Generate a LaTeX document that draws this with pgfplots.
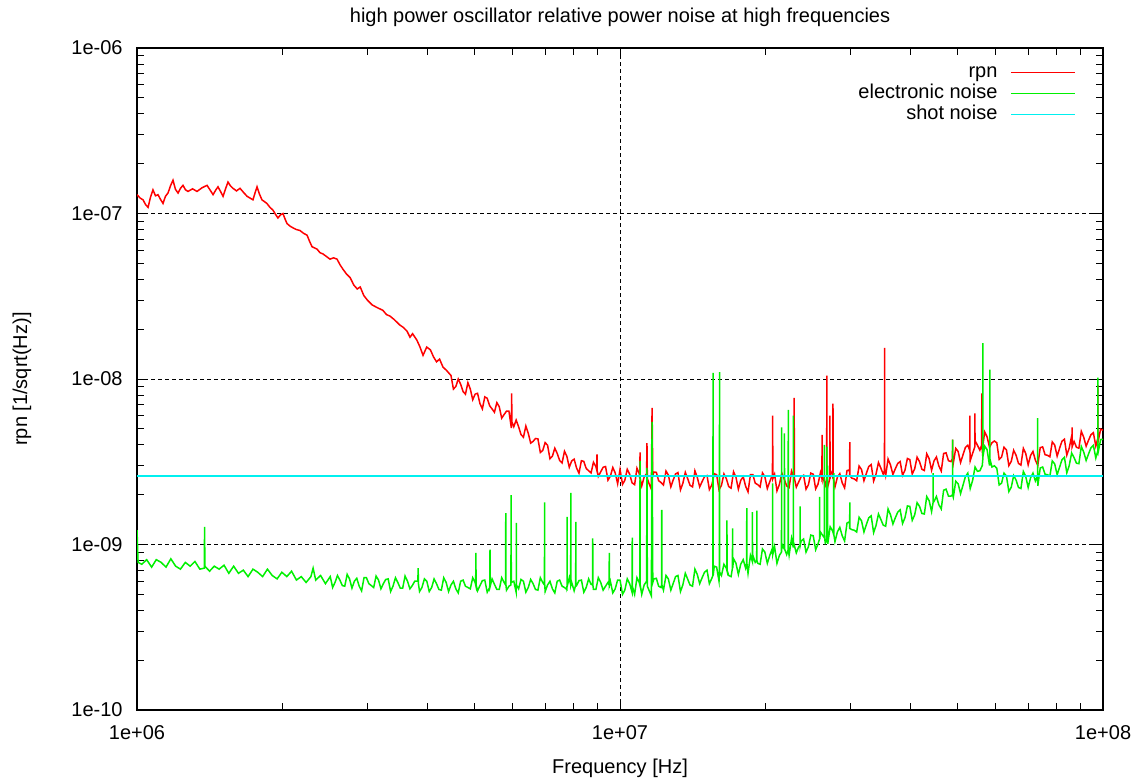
\documentclass[border=0pt]{standalone}
\usepackage{fontspec}
\setmainfont{Liberation Sans}
\usepackage{pgfplots}
\pgfplotsset{compat=1.18}
\definecolor{gpred}{RGB}{255,0,0}
\definecolor{gpgreen}{RGB}{0,240,0}
\definecolor{gpcyan}{RGB}{0,240,240}
\begin{document}
\begin{tikzpicture}
\begin{axis}[
  scale only axis, width=483pt, height=331pt,
  xmode=log, ymode=log,
  xmin=1e6, xmax=1e8, ymin=1e-10, ymax=1e-6,
  xtick={1e6,1e7,1e8}, xticklabels={1e+06,1e+07,1e+08},
  minor xtick={2e6,3e6,4e6,5e6,6e6,7e6,8e6,9e6,2e7,3e7,4e7,5e7,6e7,7e7,8e7,9e7},
  ytick={1e-10,1e-9,1e-8,1e-7,1e-6}, yticklabels={1e-10,1e-09,1e-08,1e-07,1e-06},
  minor ytick={2e-10,3e-10,4e-10,5e-10,6e-10,7e-10,8e-10,9e-10,2e-9,3e-9,4e-9,5e-9,6e-9,7e-9,8e-9,9e-9,2e-8,3e-8,4e-8,5e-8,6e-8,7e-8,8e-8,9e-8,2e-7,3e-7,4e-7,5e-7,6e-7,7e-7,8e-7,9e-7},
  xmajorgrids, ymajorgrids,
  major grid style={black, line width=0.5pt, dash pattern=on 2pt off 1.5pt},
  axis line style={black, line width=0.6pt},
  tick style={black, line width=0.5pt},
  major tick length=5pt, minor tick length=3.5pt,
  tick align=inside,
  xticklabel style={yshift=-4pt},
  yticklabel style={xshift=-3.7pt},
  every axis title shift=0pt,
  title={high power oscillator relative power noise at high frequencies},
  title style={at={(axis description cs:0.5,1.0378)}, anchor=base, yshift=0pt},
  xlabel={Frequency [Hz]},
  xlabel style={at={(axis description cs:0.5,-0.0952)}, anchor=base},
  ylabel={rpn [1/sqrt(Hz)]},
  ylabel style={at={(axis description cs:-0.119,0.5)}, anchor=center},
  legend cell align=right,
  legend plot pos=right,
  legend image code/.code={\draw[#1] (0pt,0pt) -- (32pt,0pt);},
  legend style={draw=none, fill=none, at={(1,1)}, anchor=north east,
    xshift=-13.5pt, yshift=-7pt, inner sep=0pt, outer sep=0pt,
    row sep=0pt, column sep=6.5pt,
    nodes={inner sep=0pt, text height=7.5pt, text depth=3pt}},
]
\addplot[gpred, line width=0.75pt] table {
x y
1.000e6 1.30e-7
1.015e6 1.24e-7
1.029e6 1.21e-7
1.042e6 1.13e-7
1.054e6 1.09e-7
1.066e6 1.25e-7
1.079e6 1.39e-7
1.092e6 1.28e-7
1.105e6 1.30e-7
1.118e6 1.22e-7
1.132e6 1.15e-7
1.145e6 1.27e-7
1.159e6 1.33e-7
1.173e6 1.47e-7
1.187e6 1.59e-7
1.201e6 1.40e-7
1.216e6 1.33e-7
1.230e6 1.42e-7
1.245e6 1.48e-7
1.260e6 1.39e-7
1.275e6 1.36e-7
1.303e6 1.41e-7
1.331e6 1.36e-7
1.363e6 1.43e-7
1.396e6 1.48e-7
1.416e6 1.39e-7
1.437e6 1.30e-7
1.454e6 1.38e-7
1.471e6 1.45e-7
1.489e6 1.36e-7
1.507e6 1.27e-7
1.525e6 1.41e-7
1.543e6 1.55e-7
1.561e6 1.47e-7
1.580e6 1.42e-7
1.607e6 1.37e-7
1.634e6 1.42e-7
1.662e6 1.34e-7
1.690e6 1.27e-7
1.714e6 1.24e-7
1.738e6 1.21e-7
1.755e6 1.33e-7
1.772e6 1.45e-7
1.793e6 1.31e-7
1.814e6 1.21e-7
1.836e6 1.18e-7
1.858e6 1.15e-7
1.884e6 1.09e-7
1.911e6 1.05e-7
1.935e6 9.9e-8
1.958e6 9.4e-8
1.981e6 9.8e-8
2.005e6 1.00e-7
2.024e6 9.3e-8
2.044e6 8.7e-8
2.073e6 8.4e-8
2.102e6 8.2e-8
2.138e6 8.0e-8
2.174e6 7.9e-8
2.211e6 7.6e-8
2.249e6 7.4e-8
2.276e6 6.8e-8
2.303e6 6.3e-8
2.330e6 6.2e-8
2.358e6 6.1e-8
2.392e6 5.8e-8
2.426e6 5.7e-8
2.467e6 5.5e-8
2.509e6 5.3e-8
2.552e6 5.4e-8
2.595e6 5.3e-8
2.632e6 4.9e-8
2.670e6 4.6e-8
2.716e6 4.3e-8
2.762e6 4.1e-8
2.810e6 3.7e-8
2.857e6 3.5e-8
2.898e6 3.6e-8
2.947e6 3.2e-8
2.998e6 3.0e-8
3.070e6 2.8e-8
3.143e6 2.7e-8
3.229e6 2.6e-8
3.285e6 2.45e-8
3.340e6 2.4e-8
3.400e6 2.3e-8
3.455e6 2.2e-8
3.500e6 2.12e-8
3.560e6 2.05e-8
3.621e6 1.95e-8
3.675e6 1.79e-8
3.720e6 1.88e-8
3.796e6 1.72e-8
3.854e6 1.56e-8
3.910e6 1.39e-8
3.980e6 1.56e-8
4.050e6 1.50e-8
4.110e6 1.36e-8
4.170e6 1.27e-8
4.230e6 1.32e-8
4.300e6 1.18e-8
4.370e6 1.13e-8
4.467e6 1.05e-8
4.519e6 8.7e-9
4.571e6 9.0e-9
4.624e6 1.00e-8
4.677e6 9.3e-9
4.732e6 8.4e-9
4.786e6 8.1e-9
4.842e6 9.5e-9
4.898e6 8.7e-9
4.955e6 7.5e-9
5.012e6 8.1e-9
5.070e6 8.2e-9
5.129e6 7.1e-9
5.188e6 6.6e-9
5.248e6 7.8e-9
5.309e6 7.65e-9
5.370e6 6.9e-9
5.433e6 6.6e-9
5.495e6 6.3e-9
5.559e6 7.2e-9
5.623e6 6.8e-9
5.689e6 5.8e-9
5.754e6 6.1e-9
5.821e6 6.4e-9
5.888e6 6.4e-9
5.957e6 5.05e-9
5.965e6 8.2e-9
5.973e6 5.5e-9
6.026e6 5.15e-9
6.095e6 5.65e-9
6.166e6 5.15e-9
6.237e6 4.62e-9
6.310e6 4.45e-9
6.383e6 5.2e-9
6.457e6 4.7e-9
6.531e6 4.1e-9
6.607e6 4.2e-9
6.683e6 4.37e-9
6.761e6 4.35e-9
6.839e6 3.6e-9
6.918e6 3.7e-9
6.998e6 4.13e-9
7.079e6 3.98e-9
7.161e6 3.3e-9
7.244e6 3.42e-9
7.328e6 3.82e-9
7.413e6 3.55e-9
7.499e6 3.22e-9
7.586e6 3.11e-9
7.674e6 3.66e-9
7.762e6 3.41e-9
7.852e6 2.93e-9
7.943e6 3.2e-9
8.035e6 3.28e-9
8.128e6 2.9e-9
8.222e6 2.7e-9
8.318e6 3.21e-9
8.414e6 3.18e-9
8.511e6 2.88e-9
8.610e6 2.79e-9
8.710e6 2.71e-9
8.810e6 3.14e-9
8.913e6 2.96e-9
8.955e6 2.8e-9
8.960e6 3.5e-9
8.965e6 2.8e-9
9.016e6 2.58e-9
9.120e6 2.75e-9
9.226e6 2.93e-9
9.333e6 2.96e-9
9.441e6 2.45e-9
9.550e6 2.59e-9
9.661e6 2.92e-9
9.772e6 2.71e-9
9.886e6 2.33e-9
1.000e7 2.84e-9
1.012e7 2.31e-9
1.023e7 2.44e-9
1.035e7 2.85e-9
1.047e7 2.66e-9
1.059e7 2.36e-9
1.072e7 2.30e-9
1.084e7 2.89e-9
1.096e7 2.68e-9
1.099e7 2.5e-9
1.100e7 3.6e-9
1.101e7 2.5e-9
1.109e7 2.26e-9
1.122e7 2.56e-9
1.135e7 2.68e-9
1.137e7 4.1e-9
1.139e7 2.5e-9
1.148e7 2.34e-9
1.161e7 2.16e-9
1.165e7 6.7e-9
1.169e7 2.6e-9
1.175e7 2.74e-9
1.189e7 2.73e-9
1.202e7 2.43e-9
1.216e7 2.37e-9
1.230e7 2.29e-9
1.245e7 2.78e-9
1.259e7 2.63e-9
1.274e7 2.23e-9
1.288e7 2.45e-9
1.303e7 2.67e-9
1.318e7 2.72e-9
1.334e7 2.14e-9
1.349e7 2.34e-9
1.365e7 2.73e-9
1.380e7 2.51e-9
1.396e7 2.28e-9
1.413e7 2.23e-9
1.429e7 2.79e-9
1.445e7 2.55e-9
1.462e7 2.23e-9
1.479e7 2.40e-9
1.496e7 2.57e-9
1.514e7 2.61e-9
1.531e7 2.15e-9
1.549e7 2.29e-9
1.567e7 2.68e-9
1.585e7 2.64e-9
1.603e7 2.14e-9
1.622e7 2.28e-9
1.641e7 2.67e-9
1.660e7 2.50e-9
1.679e7 2.24e-9
1.698e7 2.19e-9
1.718e7 2.75e-9
1.738e7 2.55e-9
1.758e7 2.16e-9
1.778e7 2.44e-9
1.799e7 2.57e-9
1.820e7 2.25e-9
1.841e7 2.08e-9
1.862e7 2.64e-9
1.884e7 2.64e-9
1.905e7 2.35e-9
1.928e7 2.30e-9
1.950e7 2.23e-9
1.972e7 2.71e-9
1.995e7 2.57e-9
2.018e7 2.18e-9
2.042e7 2.40e-9
2.065e7 2.61e-9
2.068e7 2.5e-9
2.070e7 6.0e-9
2.072e7 2.5e-9
2.089e7 2.66e-9
2.113e7 2.11e-9
2.138e7 2.31e-9
2.163e7 2.70e-9
2.188e7 2.48e-9
2.213e7 2.26e-9
2.239e7 2.21e-9
2.265e7 2.78e-9
2.291e7 2.54e-9
2.293e7 7.7e-9
2.297e7 2.5e-9
2.317e7 2.22e-9
2.344e7 2.39e-9
2.371e7 2.57e-9
2.399e7 2.62e-9
2.427e7 2.16e-9
2.455e7 2.30e-9
2.483e7 2.70e-9
2.512e7 2.66e-9
2.541e7 2.17e-9
2.570e7 2.32e-9
2.600e7 2.72e-9
2.618e7 2.5e-9
2.620e7 4.6e-9
2.622e7 2.5e-9
2.630e7 2.55e-9
2.661e7 2.29e-9
2.678e7 2.5e-9
2.680e7 1.05e-8
2.682e7 2.5e-9
2.692e7 2.24e-9
2.718e7 2.5e-9
2.720e7 6.0e-9
2.722e7 2.5e-9
2.723e7 2.82e-9
2.754e7 2.63e-9
2.758e7 2.5e-9
2.760e7 7.1e-9
2.762e7 2.55e-9
2.786e7 2.23e-9
2.818e7 2.55e-9
2.851e7 2.68e-9
2.884e7 2.36e-9
2.917e7 2.20e-9
2.951e7 2.80e-9
2.985e7 2.82e-9
2.988e7 2.6e-9
2.990e7 4.15e-9
2.992e7 2.6e-9
3.020e7 2.52e-9
3.055e7 2.49e-9
3.090e7 2.43e-9
3.126e7 2.98e-9
3.162e7 2.84e-9
3.199e7 2.43e-9
3.236e7 2.69e-9
3.273e7 2.96e-9
3.311e7 3.04e-9
3.350e7 2.42e-9
3.388e7 2.66e-9
3.428e7 3.13e-9
3.467e7 2.90e-9
3.507e7 2.66e-9
3.528e7 2.8e-9
3.530e7 1.54e-8
3.532e7 2.8e-9
3.548e7 2.61e-9
3.589e7 3.29e-9
3.631e7 3.02e-9
3.673e7 2.65e-9
3.715e7 2.87e-9
3.758e7 3.09e-9
3.802e7 3.17e-9
3.846e7 2.62e-9
3.890e7 2.81e-9
3.936e7 3.31e-9
3.981e7 3.26e-9
4.027e7 2.67e-9
4.074e7 2.87e-9
4.121e7 3.37e-9
4.169e7 3.17e-9
4.217e7 2.85e-9
4.266e7 2.80e-9
4.315e7 3.53e-9
4.365e7 3.30e-9
4.416e7 2.81e-9
4.467e7 3.20e-9
4.519e7 3.38e-9
4.571e7 2.99e-9
4.624e7 2.78e-9
4.677e7 3.55e-9
4.732e7 3.58e-9
4.786e7 3.21e-9
4.842e7 3.17e-9
4.878e7 3.3e-9
4.880e7 4.3e-9
4.882e7 3.3e-9
4.898e7 3.10e-9
4.955e7 3.81e-9
5.012e7 3.65e-9
5.070e7 3.13e-9
5.129e7 3.48e-9
5.188e7 3.86e-9
5.248e7 3.98e-9
5.298e7 3.7e-9
5.300e7 6.0e-9
5.302e7 3.7e-9
5.309e7 3.21e-9
5.370e7 3.56e-9
5.428e7 3.9e-9
5.430e7 6.2e-9
5.432e7 4.25e-9
5.495e7 3.98e-9
5.559e7 3.72e-9
5.608e7 4.0e-9
5.610e7 8.2e-9
5.612e7 4.0e-9
5.623e7 3.73e-9
5.689e7 4.79e-9
5.754e7 4.47e-9
5.821e7 3.87e-9
5.888e7 4.12e-9
5.957e7 4.22e-9
6.026e7 4.12e-9
6.095e7 3.27e-9
6.166e7 3.38e-9
6.237e7 3.87e-9
6.310e7 3.73e-9
6.383e7 3.00e-9
6.457e7 3.18e-9
6.531e7 3.71e-9
6.607e7 3.46e-9
6.683e7 3.09e-9
6.761e7 3.02e-9
6.839e7 3.81e-9
6.918e7 3.55e-9
6.998e7 3.03e-9
7.079e7 3.45e-9
7.161e7 3.65e-9
7.244e7 3.23e-9
7.328e7 3.01e-9
7.413e7 3.85e-9
7.499e7 3.89e-9
7.586e7 3.49e-9
7.674e7 3.46e-9
7.762e7 3.39e-9
7.852e7 4.17e-9
7.943e7 3.99e-9
8.035e7 3.42e-9
8.128e7 3.81e-9
8.222e7 4.21e-9
8.318e7 4.33e-9
8.414e7 3.47e-9
8.511e7 3.83e-9
8.610e7 4.52e-9
8.628e7 3.9e-9
8.630e7 5.1e-9
8.632e7 3.9e-9
8.710e7 4.20e-9
8.810e7 3.87e-9
8.913e7 3.82e-9
9.016e7 4.83e-9
9.120e7 4.45e-9
9.226e7 3.93e-9
9.333e7 4.27e-9
9.441e7 4.61e-9
9.550e7 4.74e-9
9.661e7 3.93e-9
9.758e7 4.4e-9
9.760e7 9.2e-9
9.762e7 4.4e-9
9.772e7 4.23e-9
9.886e7 4.98e-9
1.000e8 4.91e-9
};
\addlegendentry{rpn}
\addplot[gpgreen, line width=0.75pt] table {
x y
1.000e6 1.22e-9
1.005e6 7.8e-10
1.023e6 7.6e-10
1.047e6 8.1e-10
1.072e6 7.3e-10
1.096e6 8.1e-10
1.122e6 7.8e-10
1.148e6 7.3e-10
1.175e6 8.2e-10
1.202e6 7.4e-10
1.230e6 7.1e-10
1.259e6 7.8e-10
1.288e6 7.4e-10
1.318e6 7.9e-10
1.349e6 7.1e-10
1.378e6 7.2e-10
1.380e6 1.28e-9
1.382e6 7.4e-10
1.413e6 6.9e-10
1.445e6 7.4e-10
1.479e6 7.1e-10
1.514e6 7.5e-10
1.549e6 6.7e-10
1.585e6 7.4e-10
1.622e6 6.7e-10
1.660e6 7.0e-10
1.698e6 6.4e-10
1.738e6 7.1e-10
1.778e6 6.8e-10
1.820e6 6.4e-10
1.862e6 7.1e-10
1.905e6 6.5e-10
1.950e6 6.2e-10
1.995e6 6.8e-10
2.042e6 6.4e-10
2.089e6 6.9e-10
2.138e6 6.1e-10
2.188e6 6.4e-10
2.239e6 5.9e-10
2.291e6 6.4e-10
2.315e6 7.2e-10
2.344e6 6.1e-10
2.399e6 6.5e-10
2.455e6 5.8e-10
2.512e6 6.4e-10
2.541e6 5.5e-10
2.570e6 5.9e-10
2.600e6 6.5e-10
2.630e6 6.1e-10
2.661e6 5.65e-10
2.692e6 5.6e-10
2.723e6 6.6e-10
2.754e6 6.2e-10
2.786e6 5.45e-10
2.818e6 6.0e-10
2.851e6 6.25e-10
2.884e6 5.6e-10
2.917e6 5.25e-10
2.951e6 6.3e-10
2.985e6 6.3e-10
3.020e6 5.8e-10
3.055e6 5.65e-10
3.090e6 5.5e-10
3.126e6 6.45e-10
3.162e6 6.1e-10
3.199e6 5.4e-10
3.236e6 5.8e-10
3.273e6 6.15e-10
3.311e6 6.2e-10
3.350e6 5.2e-10
3.388e6 5.6e-10
3.428e6 6.3e-10
3.467e6 5.9e-10
3.508e6 5.45e-10
3.548e6 5.45e-10
3.589e6 6.45e-10
3.631e6 6.0e-10
3.673e6 5.4e-10
3.715e6 5.65e-10
3.758e6 6.0e-10
3.802e6 6.0e-10
3.815e6 6.0e-10
3.820e6 7.2e-10
3.825e6 5.8e-10
3.846e6 5.2e-10
3.890e6 5.5e-10
3.936e6 6.2e-10
3.981e6 6.0e-10
4.027e6 5.2e-10
4.074e6 5.5e-10
4.121e6 6.2e-10
4.169e6 5.8e-10
4.217e6 5.35e-10
4.266e6 5.3e-10
4.315e6 6.3e-10
4.365e6 5.9e-10
4.416e6 5.2e-10
4.467e6 5.7e-10
4.519e6 6.0e-10
4.571e6 5.4e-10
4.624e6 5.1e-10
4.677e6 6.0e-10
4.732e6 6.1e-10
4.786e6 5.6e-10
4.842e6 5.5e-10
4.898e6 5.4e-10
4.955e6 6.3e-10
5.012e6 5.9e-10
5.025e6 5.7e-10
5.030e6 8.9e-10
5.035e6 5.7e-10
5.070e6 5.25e-10
5.129e6 5.65e-10
5.188e6 6.05e-10
5.248e6 6.1e-10
5.309e6 5.15e-10
5.370e6 5.5e-10
5.375e6 5.7e-10
5.380e6 9.3e-10
5.385e6 5.6e-10
5.433e6 6.2e-10
5.495e6 5.75e-10
5.559e6 5.35e-10
5.623e6 5.35e-10
5.689e6 6.3e-10
5.754e6 5.9e-10
5.795e6 5.7e-10
5.800e6 1.55e-9
5.805e6 5.7e-10
5.821e6 5.3e-10
5.888e6 5.6e-10
5.945e6 5.7e-10
5.950e6 1.99e-9
5.955e6 5.9e-10
6.026e6 6.0e-10
6.095e6 5.15e-10
6.098e6 5.7e-10
6.100e6 1.35e-9
6.102e6 5.7e-10
6.166e6 5.4e-10
6.237e6 6.15e-10
6.310e6 6.0e-10
6.383e6 5.15e-10
6.457e6 5.5e-10
6.531e6 6.15e-10
6.607e6 5.8e-10
6.683e6 5.35e-10
6.761e6 5.3e-10
6.839e6 6.3e-10
6.918e6 5.9e-10
6.975e6 5.7e-10
6.980e6 1.8e-9
6.985e6 5.7e-10
6.998e6 5.2e-10
7.079e6 5.7e-10
7.161e6 6.0e-10
7.244e6 5.4e-10
7.328e6 5.1e-10
7.413e6 6.0e-10
7.499e6 6.1e-10
7.586e6 5.6e-10
7.674e6 5.5e-10
7.762e6 5.35e-10
7.767e6 5.6e-10
7.770e6 1.47e-9
7.775e6 5.6e-10
7.852e6 6.3e-10
7.905e6 5.7e-10
7.910e6 2.05e-9
7.915e6 5.7e-10
7.943e6 5.9e-10
8.035e6 5.25e-10
8.095e6 5.7e-10
8.100e6 1.37e-9
8.105e6 5.7e-10
8.128e6 5.65e-10
8.222e6 6.05e-10
8.318e6 6.1e-10
8.414e6 5.15e-10
8.511e6 5.5e-10
8.610e6 6.2e-10
8.710e6 5.75e-10
8.775e6 5.7e-10
8.780e6 1.09e-9
8.785e6 5.7e-10
8.810e6 5.35e-10
8.913e6 5.35e-10
9.016e6 6.3e-10
9.120e6 5.9e-10
9.226e6 5.3e-10
9.333e6 5.6e-10
9.441e6 5.9e-10
9.495e6 5.7e-10
9.500e6 8.9e-10
9.505e6 5.7e-10
9.550e6 6.0e-10
9.661e6 5.1e-10
9.772e6 5.4e-10
9.886e6 6.1e-10
1.000e7 6.1e-10
1.012e7 5.0e-10
1.023e7 5.3e-10
1.035e7 6.2e-10
1.047e7 5.8e-10
1.059e7 5.15e-10
1.0595e7 5.6e-10
1.0600e7 1.1e-9
1.0605e7 5.6e-10
1.072e7 5.0e-10
1.084e7 6.3e-10
1.096e7 5.9e-10
1.099e7 5.7e-10
1.100e7 3.2e-9
1.101e7 5.7e-10
1.109e7 5.0e-10
1.122e7 5.7e-10
1.135e7 6.0e-10
1.137e7 2.9e-9
1.139e7 5.6e-10
1.148e7 5.3e-10
1.161e7 4.9e-10
1.165e7 5.5e-9
1.169e7 5.9e-10
1.175e7 6.2e-10
1.189e7 6.25e-10
1.202e7 5.6e-10
1.216e7 5.5e-10
1.219e7 5.7e-10
1.220e7 1.62e-9
1.221e7 5.7e-10
1.230e7 5.3e-10
1.245e7 6.5e-10
1.259e7 6.2e-10
1.274e7 5.3e-10
1.288e7 5.8e-10
1.303e7 6.4e-10
1.318e7 6.5e-10
1.334e7 5.2e-10
1.349e7 5.7e-10
1.365e7 6.7e-10
1.380e7 6.2e-10
1.396e7 5.7e-10
1.413e7 5.6e-10
1.429e7 7.1e-10
1.445e7 6.6e-10
1.462e7 5.8e-10
1.479e7 6.3e-10
1.496e7 6.8e-10
1.514e7 7.0e-10
1.531e7 5.8e-10
1.549e7 6.25e-10
1.557e7 6.5e-10
1.558e7 1.09e-8
1.559e7 6.5e-10
1.567e7 7.4e-10
1.585e7 7.3e-10
1.603e7 6.0e-10
1.606e7 6.8e-10
1.607e7 1.10e-8
1.608e7 6.8e-10
1.622e7 6.5e-10
1.641e7 7.6e-10
1.660e7 7.2e-10
1.664e7 7.0e-10
1.665e7 1.4e-9
1.666e7 7.0e-10
1.679e7 6.5e-10
1.698e7 6.4e-10
1.709e7 7.2e-10
1.710e7 1.25e-9
1.711e7 7.2e-10
1.718e7 8.2e-10
1.738e7 7.7e-10
1.758e7 6.6e-10
1.778e7 7.6e-10
1.799e7 8.1e-10
1.820e7 7.2e-10
1.829e7 7.7e-10
1.830e7 1.66e-9
1.831e7 7.7e-10
1.841e7 6.7e-10
1.862e7 8.6e-10
1.879e7 7.9e-10
1.880e7 1.57e-9
1.881e7 7.9e-10
1.884e7 8.6e-10
1.905e7 7.8e-10
1.919e7 8.0e-10
1.920e7 1.6e-9
1.921e7 8.0e-10
1.928e7 7.7e-10
1.950e7 7.6e-10
1.972e7 9.4e-10
1.995e7 9.0e-10
2.018e7 7.7e-10
2.042e7 8.6e-10
2.065e7 9.4e-10
2.069e7 8.7e-10
2.070e7 2.34e-9
2.071e7 8.7e-10
2.089e7 9.7e-10
2.113e7 7.7e-10
2.138e7 8.6e-10
2.159e7 9.0e-10
2.160e7 5.1e-9
2.161e7 9.0e-10
2.163e7 1.01e-9
2.188e7 9.4e-10
2.189e7 9.4e-10
2.190e7 4.7e-9
2.191e7 9.4e-10
2.213e7 8.7e-10
2.229e7 9.3e-10
2.230e7 6.5e-9
2.231e7 9.3e-10
2.239e7 8.6e-10
2.265e7 1.09e-9
2.284e7 9.6e-10
2.285e7 6.0e-9
2.286e7 9.6e-10
2.291e7 1.01e-9
2.317e7 8.9e-10
2.344e7 9.7e-10
2.359e7 9.9e-10
2.360e7 1.7e-9
2.361e7 9.9e-10
2.371e7 1.05e-9
2.399e7 1.08e-9
2.427e7 9.0e-10
2.455e7 9.7e-10
2.483e7 1.14e-9
2.512e7 1.13e-9
2.541e7 9.3e-10
2.570e7 1.01e-9
2.589e7 1.08e-9
2.590e7 1.94e-9
2.591e7 1.08e-9
2.600e7 1.19e-9
2.630e7 1.13e-9
2.649e7 1.10e-9
2.650e7 4.0e-9
2.651e7 1.10e-9
2.661e7 1.02e-9
2.679e7 1.05e-9
2.680e7 3.9e-9
2.681e7 1.05e-9
2.689e7 1.11e-9
2.690e7 3.0e-9
2.691e7 1.11e-9
2.692e7 1.01e-9
2.723e7 1.28e-9
2.754e7 1.21e-9
2.769e7 1.15e-9
2.770e7 2.7e-9
2.771e7 1.15e-9
2.786e7 1.04e-9
2.818e7 1.19e-9
2.851e7 1.27e-9
2.884e7 1.13e-9
2.917e7 1.05e-9
2.951e7 1.35e-9
2.985e7 1.37e-9
2.989e7 1.25e-9
2.990e7 1.8e-9
2.991e7 1.25e-9
3.020e7 1.23e-9
3.055e7 1.22e-9
3.090e7 1.19e-9
3.126e7 1.46e-9
3.162e7 1.39e-9
3.199e7 1.19e-9
3.236e7 1.32e-9
3.273e7 1.45e-9
3.311e7 1.49e-9
3.350e7 1.18e-9
3.388e7 1.30e-9
3.428e7 1.53e-9
3.467e7 1.42e-9
3.507e7 1.31e-9
3.548e7 1.29e-9
3.589e7 1.64e-9
3.631e7 1.51e-9
3.673e7 1.33e-9
3.715e7 1.45e-9
3.758e7 1.57e-9
3.802e7 1.62e-9
3.846e7 1.34e-9
3.890e7 1.45e-9
3.936e7 1.71e-9
3.981e7 1.70e-9
4.027e7 1.40e-9
4.074e7 1.51e-9
4.121e7 1.79e-9
4.169e7 1.70e-9
4.217e7 1.54e-9
4.266e7 1.53e-9
4.315e7 1.95e-9
4.365e7 1.84e-9
4.416e7 1.58e-9
4.449e7 1.80e-9
4.450e7 2.7e-9
4.451e7 1.80e-9
4.467e7 1.82e-9
4.519e7 1.95e-9
4.571e7 1.74e-9
4.624e7 1.64e-9
4.677e7 2.13e-9
4.732e7 2.16e-9
4.786e7 1.96e-9
4.842e7 1.96e-9
4.879e7 2.00e-9
4.880e7 4.3e-9
4.881e7 2.00e-9
4.898e7 1.93e-9
4.955e7 2.41e-9
5.012e7 2.33e-9
5.070e7 2.03e-9
5.129e7 2.28e-9
5.188e7 2.57e-9
5.248e7 2.70e-9
5.309e7 2.18e-9
5.370e7 2.44e-9
5.433e7 2.94e-9
5.495e7 2.77e-9
5.559e7 2.79e-9
5.623e7 3.00e-9
5.639e7 3.3e-9
5.640e7 1.65e-8
5.641e7 3.4e-9
5.689e7 3.93e-9
5.754e7 3.74e-9
5.821e7 3.00e-9
5.829e7 3.4e-9
5.830e7 1.14e-8
5.831e7 3.3e-9
5.888e7 2.94e-9
5.957e7 2.99e-9
6.026e7 2.89e-9
6.095e7 2.29e-9
6.166e7 2.35e-9
6.237e7 2.70e-9
6.310e7 2.59e-9
6.383e7 2.09e-9
6.457e7 2.22e-9
6.531e7 2.61e-9
6.607e7 2.45e-9
6.683e7 2.21e-9
6.761e7 2.18e-9
6.839e7 2.76e-9
6.918e7 2.58e-9
6.998e7 2.21e-9
7.079e7 2.53e-9
7.161e7 2.70e-9
7.244e7 2.42e-9
7.319e7 2.6e-9
7.320e7 5.8e-9
7.321e7 2.6e-9
7.328e7 2.26e-9
7.413e7 2.90e-9
7.499e7 2.94e-9
7.586e7 2.66e-9
7.674e7 2.64e-9
7.762e7 2.59e-9
7.852e7 3.20e-9
7.943e7 3.07e-9
8.035e7 2.64e-9
8.128e7 2.93e-9
8.222e7 3.25e-9
8.318e7 3.37e-9
8.414e7 2.71e-9
8.511e7 3.00e-9
8.610e7 3.57e-9
8.710e7 3.35e-9
8.810e7 3.10e-9
8.913e7 3.08e-9
9.016e7 3.91e-9
9.120e7 3.62e-9
9.226e7 3.22e-9
9.333e7 3.53e-9
9.441e7 3.84e-9
9.550e7 3.98e-9
9.661e7 3.33e-9
9.759e7 3.7e-9
9.760e7 1.02e-8
9.761e7 3.7e-9
9.772e7 3.62e-9
9.886e7 4.31e-9
1.000e8 4.32e-9
};
\addlegendentry{electronic noise}
\addplot[gpcyan, line width=0.8pt] coordinates {(1e6,2.6e-9) (1e8,2.6e-9)};
\addlegendentry{shot noise}
\end{axis}
\pgfresetboundingbox
\path ([shift={(-68.5pt,-36.5pt)}]current axis.south west) rectangle ([shift={(22.5pt,24pt)}]current axis.north east);
\end{tikzpicture}
\end{document}
